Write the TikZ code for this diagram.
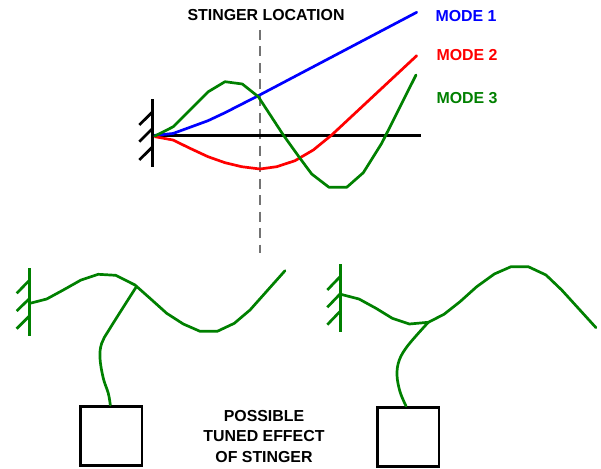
\documentclass[tikz,border=0pt]{standalone}
\usepackage{fontspec}
\setmainfont{Liberation Sans}
\definecolor{mgreen}{RGB}{0,128,0}
\definecolor{mred}{RGB}{255,0,0}
\definecolor{mblue}{RGB}{0,0,255}
\tikzset{
  lbl/.style={font=\bfseries\fontsize{15.9}{18}\selectfont,inner sep=0pt,anchor=center},
  curve/.style={line width=2.7pt,line join=round,line cap=round},
  wallline/.style={line width=2.7pt},
  massbox/.style={draw=black,line width=2.6pt,fill=white,minimum width=61.5pt,minimum height=59pt,inner sep=0pt,outer sep=0pt}
}
\begin{document}
\begin{tikzpicture}[x=1pt,y=-1pt]
\useasboundingbox (0,0) rectangle (601,468);
% labels
\node[lbl] (title) at (266,15.5) {STINGER LOCATION};
\node[lbl,text=mblue] (m1) at (466,16) {MODE 1};
\node[lbl,text=mred] (m2) at (467,55) {MODE 2};
\node[lbl,text=mgreen] (m3) at (467,98) {MODE 3};
\node[lbl] (t1) at (264,416.5) {POSSIBLE};
\node[lbl] (t2) at (264,436.5) {TUNED EFFECT};
\node[lbl] (t3) at (264,457) {OF STINGER};
% dashed location line
\coordinate (dTop) at (260,30);
\coordinate (dBot) at (260,253);
\draw[line width=2pt,color=black!55,dash pattern=on 10pt off 6.5pt] (dTop) -- (dBot);
% top wall
\coordinate (wT) at (152.7,99);
\coordinate (wB) at (152.7,167);
\draw[wallline] (wT) -- (wB);
\draw[wallline] (139.3,125) -- (152.7,111.7);
\draw[wallline] (139.3,141.7) -- (152.7,128.3);
\draw[wallline] (139.3,160) -- (152.7,146.7);
% axis
\coordinate (aL) at (154,135.3);
\coordinate (aR) at (420.7,135.3);
\draw[wallline] (aL) -- (aR);
% modes
\draw[curve,mblue] (155,135.3) -- (173,133.5) -- (190,127.3) -- (208,120.7) -- (225,112.7) -- (258.3,95.7) -- (416.7,12.3);
\draw[curve,mred] (155,136.7) -- (173,140) -- (190,148.3) -- (208,156.7) -- (225,162.7) -- (241.7,166.7) -- (260,169) -- (276.7,166.7) -- (295,160.7) -- (313.3,150) -- (331.7,135) -- (416.7,55.7);
\draw[curve,mgreen] (155,136) -- (173.3,126.7) -- (190,110) -- (208.3,91.7) -- (225,81.7) -- (242.3,84) -- (258.3,96.7) -- (283.3,135) -- (300,158.3) -- (311.7,174) -- (329,187.3) -- (346.7,187.3) -- (363.3,172.7) -- (381.7,143.3) -- (416,75);
% lower-left
\draw[wallline,mgreen] (29.7,268.3) -- (29.7,336);
\draw[wallline,mgreen] (16.7,293.3) -- (29.7,280);
\draw[wallline,mgreen] (16.7,311) -- (29.7,298.3);
\draw[wallline,mgreen] (16.7,328.7) -- (29.7,315.7);
\draw[curve,mgreen] (30,303.3) -- (46.7,299) -- (63.3,290) -- (81,280) -- (98.3,274.3) -- (115.7,275.3) -- (135,285) -- (150,298.3) -- (166.7,313.3) -- (183.3,324) -- (200,331.3) -- (217.3,331.3) -- (234.3,323.3) -- (250,310) -- (285,270.7);
\node[massbox] (boxA) at (111.3,435.7) {};
\coordinate (sA) at (136,287.3);
\coordinate (eA) at (110.3,405);
\draw[curve,mgreen] plot[smooth,tension=0.6] coordinates {(sA) (110,328.3) (101.7,343.3) (100,358.3) (103.3,378.3) (108.3,393.3) (eA)};
% lower-right
\draw[wallline,mgreen] (340.7,264.3) -- (340.7,331.7);
\draw[wallline,mgreen] (327.3,290) -- (340.7,276);
\draw[wallline,mgreen] (327.3,307.3) -- (340.7,293.3);
\draw[wallline,mgreen] (327.3,324.7) -- (340.7,310.7);
\draw[curve,mgreen] (340.7,294.3) -- (359,299) -- (376,308.3) -- (392.3,318.3) -- (409.3,324) -- (428.3,322.3) -- (444,314.3) -- (460,301.7) -- (476.7,286.7) -- (494.3,274) -- (511,266.7) -- (528.3,266.7) -- (546,275) -- (561.7,290) -- (596,327.7);
\node[massbox] (boxB) at (408.3,436.7) {};
\coordinate (sB) at (428.3,322.3);
\coordinate (eB) at (406,406);
\draw[curve,mgreen] plot[smooth,tension=0.6] coordinates {(sB) (408.3,345) (399.3,360) (397,375) (400,391.7) (eB)};
\end{tikzpicture}
\end{document}
